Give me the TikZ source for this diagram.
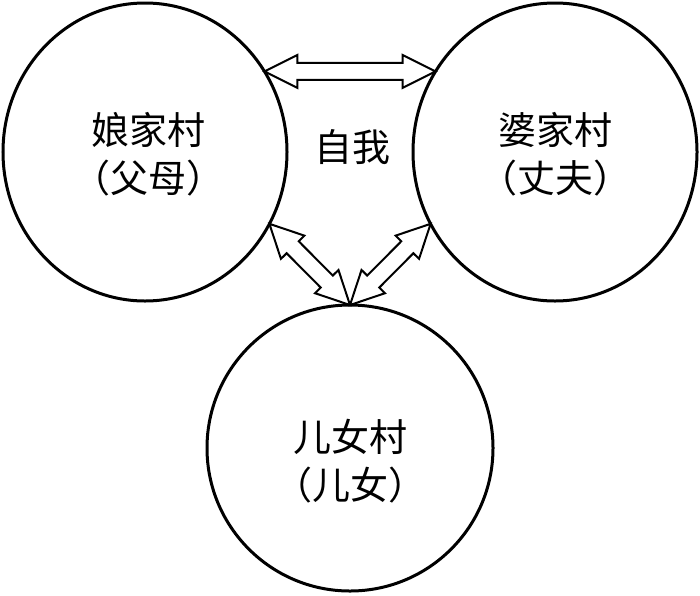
\documentclass[tikz,border=0pt]{standalone}
\usepackage{fontspec}
\setmainfont{Noto Sans CJK SC}
\usetikzlibrary{shapes.geometric,calc}
\tikzset{
  village/.style={draw, ellipse, line width=3pt, inner sep=0pt, outer sep=0pt},
  lbl/.style={font=\fontsize{38}{48}\selectfont, align=center, inner sep=0pt},
  harrow/.style={draw, line width=2pt, line join=miter},
}
\newcommand\lp{\hbox{\kern-0.5em （}}
\newcommand\rp{\hbox{）\kern-0.5em}}
\newcommand\hollowarrow[3]{% #1,#2 tips, #3 unique id
  \coordinate (#3a) at ($(#1)!33pt!(#2)$);
  \coordinate (#3b) at ($(#2)!33pt!(#1)$);
  \draw[harrow] (#1)
    -- ($(#3a)!16.5pt!90:(#2)$) -- ($(#3a)!8.5pt!90:(#2)$)
    -- ($(#3b)!8.5pt!90:(#2)$) -- ($(#3b)!16.5pt!90:(#2)$)
    -- (#2)
    -- ($(#3b)!16.5pt!-90:(#2)$) -- ($(#3b)!8.5pt!-90:(#2)$)
    -- ($(#3a)!8.5pt!-90:(#2)$) -- ($(#3a)!16.5pt!-90:(#2)$)
    -- cycle;
}
\begin{document}
\begin{tikzpicture}[x=1pt,y=-1pt]
  \useasboundingbox (0,0) rectangle (700,595);
  \node[village, minimum width=284pt, minimum height=298pt] (L) at (145,152) {};
  \node[village, minimum width=284pt, minimum height=298pt] (R) at (555,152) {};
  \node[village, minimum width=286pt, minimum height=286pt] (B) at (350,448) {};
  \node[lbl] (tL) at (148,154) {娘家村\\\lp 父母\rp};
  \node[lbl] (tR) at (555,154) {婆家村\\\lp 丈夫\rp};
  \node[lbl] (tB) at (350,461) {儿女村\\\lp 儿女\rp};
  \node[lbl] (self) at (352,147) {自我};
  \coordinate (a1) at (L.34);
  \coordinate (a2) at (R.146);
  \coordinate (b1) at (L.-30);
  \coordinate (b2) at (R.-150);
  \coordinate (c) at (B.90);
  \hollowarrow{a1}{a2}{ta}
  \hollowarrow{c}{b1}{la}
  \hollowarrow{c}{b2}{ra}
\end{tikzpicture}
\end{document}
